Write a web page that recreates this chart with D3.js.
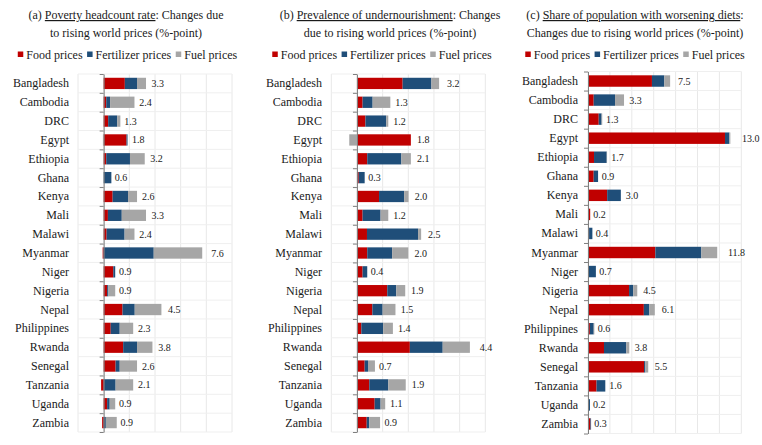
<!DOCTYPE html>
<html><head><meta charset="utf-8">
<script src="https://cdn.jsdelivr.net/npm/d3@7"></script>
<style>
html,body{margin:0;padding:0;background:#fff;}
svg{display:block;}
text{font-family:'Liberation Serif','Times New Roman',Times,'DejaVu Serif',serif;}
</style></head>
<body><svg id="chart" width="762" height="445"></svg>
<script>
const countries = ["Bangladesh","Cambodia","DRC","Egypt","Ethiopia","Ghana","Kenya","Mali","Malawi","Myanmar","Niger","Nigeria","Nepal","Philippines","Rwanda","Senegal","Tanzania","Uganda","Zambia"];
const seriesNames = ["Food prices","Fertilizer prices","Fuel prices"];
const seriesColors = ["#C00000","#1F4E79","#A6A6A6"];

// (a) Poverty headcount rate
const povFood  = [1.65,0.2,0.35,1.78,0.2,0,0.7,0.33,0.23,-0.08,0.75,0.27,1.47,0.55,1.52,0.93,-0.2,0.27,-0.12];
const povFert  = [0.95,0.3,0.7,0.08,1.85,0.6,1.2,1.08,1.4,3.9,0.15,0.1,0.95,0.7,1.08,0.32,0.93,0.2,0.17];
const povFuel  = [0.7,1.9,0.25,-0.06,1.15,0,0.7,1.89,0.77,3.78,0,0.53,2.08,1.05,1.2,1.35,1.37,0.43,0.85];
const povTotals = ["3.3","2.4","1.3","1.8","3.2","0.6","2.6","3.3","2.4","7.6","0.9","0.9","4.5","2.3","3.8","2.6","2.1","0.9","0.9"];
const povTicks = [-2,0,2,4,6,8,10];

// (b) Prevalence of undernourishment
const pouFood  = [1.78,0.22,0.33,2.1,0.4,0.07,0.86,0.22,0.39,0.4,0.22,1.18,0.6,0.17,2.06,0.3,0.48,0.69,0.38];
const pouFert  = [1.12,0.39,0.81,0,1.33,0.23,0.98,0.7,1.99,0.97,0.18,0.35,0.4,0.85,1.28,0.13,0.74,0.23,0.1];
const pouFuel  = [0.3,0.69,0.08,-0.3,0.37,0,0.17,0.3,0.12,0.63,0,0.35,0.5,0.38,1.06,0.27,0.68,0.18,0.42];
const pouTotals = ["3.2","1.3","1.2","1.8","2.1","0.3","2.0","1.2","2.5","2.0","0.4","1.9","1.5","1.4","4.4","0.7","1.9","1.1","0.9"];
const pouTicks = [-1,0,1,2,3,4,5];

// (c) Share of population with worsening diets
const dietFood = [5.84,0.52,0.98,12.51,0.55,0.52,1.75,0.2,0.1,6.15,0,3.75,5.1,0.17,1.46,5.12,0.78,0.03,0.22];
const dietFert = [1.13,1.95,0.26,0.4,1.16,0.4,1.25,0,0.3,4.2,0.72,0.38,0.5,0.35,2.04,0.12,0.8,0.15,0.06];
const dietFuel = [0.53,0.82,0.06,0.09,0.03,0,0,0,0,1.45,0,0.37,0.5,0.06,0.27,0.26,0,0,0];
const dietTotals = ["7.5","3.3","1.3","13.0","1.7","0.9","3.0","0.2","0.4","11.8","0.7","4.5","6.1","0.6","3.8","5.5","1.6","0.2","0.3"];
const dietTicks = [0,2,4,6,8,10,12,14];

const svg = d3.select("#chart");
const textColor = "#1a1a1a";
const FONT = "Liberation Serif";

const panels = [
  {food:povFood, fert:povFert, fuel:povFuel, totals:povTotals, ticks:povTicks,
   x0:78, x1:232, y0:74, y1:432, labelRight:69, titleCx:126, legendCx:127.5,
   title:[["(a) ",false],["Poverty headcount rate",true],[": Changes due",false]],
   title2:"to rising world prices (%-point)"},
  {food:pouFood, fert:pouFert, fuel:pouFuel, totals:pouTotals, ticks:pouTicks,
   x0:331.3, x1:485.3, y0:74, y1:432, labelRight:322, titleCx:390, legendCx:382,
   title:[["(b) ",false],["Prevalence of undernourishment",true],[": Changes",false]],
   title2:"due to rising world prices (%-point)"},
  {food:dietFood, fert:dietFert, fuel:dietFuel, totals:dietTotals, ticks:dietTicks,
   x0:588, x1:741.3, y0:71.5, y1:433.5, labelRight:578, titleCx:635, legendCx:635,
   title:[["(c) ",false],["Share of population with worsening diets",true],[":",false]],
   title2:"Changes due to rising world prices (%-point)"}
];

panels.forEach(p => {
  const g = svg.append("g").attr("font-family", FONT);
  const ticks = p.ticks;
  const x = d3.scaleLinear().domain([ticks[0], ticks[ticks.length-1]]).range([p.x0, p.x1]);
  const y = d3.scaleBand().domain(countries).range([p.y0, p.y1]).paddingInner(0.4).paddingOuter(0.2);
  const yB = d3.scaleLinear().domain([0, countries.length]).range([p.y0, p.y1]);

  // Title
  const t1 = g.append("text").attr("x", p.titleCx).attr("y", 19).attr("text-anchor","middle")
    .attr("font-family", FONT).attr("font-size", 12).attr("fill", textColor);
  p.title.forEach(([s,u]) => {
    const ts = t1.append("tspan").text(s);
    if (u) ts.style("text-decoration","underline");
  });
  g.append("text").attr("x", p.titleCx).attr("y", 37).attr("text-anchor","middle")
    .attr("font-family", FONT).attr("font-size", 12).attr("fill", textColor).text(p.title2);

  // Legend
  const lg = g.append("g");
  let cx = 0;
  seriesNames.forEach((n,i) => {
    lg.append("rect").attr("x", cx).attr("y", 51.5).attr("width", 5.5).attr("height", 5.5).attr("fill", seriesColors[i]);
    const tx = lg.append("text").attr("x", cx+8.5).attr("y", 58.5).attr("font-family", FONT)
      .attr("font-size", 12).attr("fill", textColor).text(n);
    cx += 8.5 + tx.node().getComputedTextLength() + 4.5;
  });
  cx -= 4.5;
  lg.attr("transform", `translate(${p.legendCx - cx/2},0)`);

  // Grid
  g.append("g").selectAll("line").data(ticks).join("line")
    .attr("x1", d=>x(d)).attr("x2", d=>x(d)).attr("y1", p.y0).attr("y2", p.y1)
    .attr("stroke", "#E8E8E8").attr("stroke-width", 1);
  g.append("g").selectAll("line").data(d3.range(countries.length+1)).join("line")
    .attr("x1", p.x0).attr("x2", p.x1).attr("y1", d=>yB(d)).attr("y2", d=>yB(d))
    .attr("stroke", "#EFEFEF").attr("stroke-width", 1);

  // Stack
  const rows = countries.map((c,i) => ({country:c, food:p.food[i], fert:p.fert[i], fuel:p.fuel[i]}));
  const stack = d3.stack().keys(["food","fert","fuel"]).offset(d3.stackOffsetDiverging);
  const layers = stack(rows);
  layers.forEach((layer, li) => {
    g.append("g").selectAll("rect").data(layer).join("rect")
      .attr("x", d => x(Math.min(d[0], d[1])))
      .attr("width", d => Math.abs(x(d[1]) - x(d[0])))
      .attr("y", d => y(d.data.country))
      .attr("height", y.bandwidth())
      .attr("fill", seriesColors[li]);
  });

  // Zero axis
  const axis = d3.axisLeft(yB).tickValues(d3.range(countries.length+1)).tickFormat("").tickSize(4).tickSizeOuter(0);
  const ax = g.append("g").attr("transform", `translate(${x(0)},0)`).call(axis);
  ax.select(".domain").attr("stroke", "#7F7F7F");
  ax.selectAll(".tick line").attr("stroke", "#7F7F7F");

  // Category labels
  g.append("g").selectAll("text").data(countries).join("text")
    .attr("x", p.labelRight).attr("y", d => y(d) + y.bandwidth()/2 + 4)
    .attr("text-anchor", "end").attr("font-family", FONT).attr("font-size", 12).attr("fill", textColor).text(d => d);

  // Value labels
  g.append("g").selectAll("text").data(rows).join("text")
    .attr("x", (d,i) => {
      const pos = Math.max(0,d.food) + Math.max(0,d.fert) + Math.max(0,d.fuel);
      const len = x(pos) - x(0);
      return x(pos) + 3 + 0.06*len;
    })
    .attr("y", d => y(d.country) + y.bandwidth()/2 + 3.5)
    .attr("font-family", FONT).attr("font-size", 10).attr("fill", textColor).text((d,i) => p.totals[i]);
});
</script></body></html>
